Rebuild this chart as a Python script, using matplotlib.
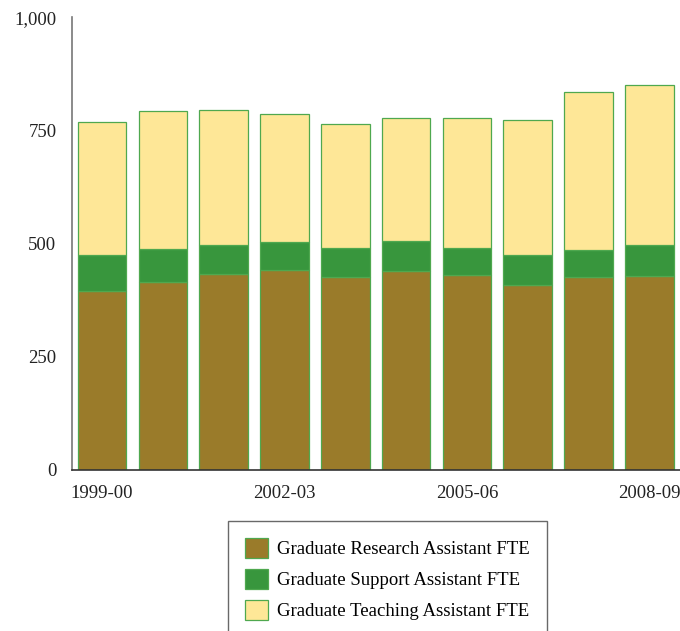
"""
Graduate assistant FTE, stacked bars
"""
import matplotlib
matplotlib.use("Agg")
import matplotlib.pyplot as plt
import numpy as np

years = ['1999-00', '2000-01', '2001-02', '2002-03', '2003-04',
         '2004-05', '2005-06', '2006-07', '2007-08', '2008-09']
research = [395, 416, 434, 442, 427, 439, 431, 409, 426, 429]
support = [80, 72, 63, 61, 64, 66, 60, 66, 61, 69]
teaching = [293, 305, 298, 284, 274, 273, 286, 299, 349, 353]

series = ['Graduate Research Assistant FTE',
          'Graduate Support Assistant FTE',
          'Graduate Teaching Assistant FTE']
colors = ['#9A7B2A', '#38963D', '#FEE797']
edge = '#4FA84F'

plt.rcParams['font.family'] = ['Liberation Serif', 'DejaVu Serif']

fig = plt.figure(figsize=(6.8, 6.31), dpi=100)
ax = fig.add_axes([0.1054, 0.2552, 0.894, 0.7174])

x = np.arange(len(years))
bottom = np.zeros(len(years))
handles = []
for vals, col, name in zip([research, support, teaching], colors, series):
    h = ax.bar(x, vals, width=0.8, bottom=bottom, color=col,
               edgecolor=edge, linewidth=0.9, label=name)
    handles.append(h)
    bottom += np.array(vals)

ax.set_xlim(-0.5, len(years) - 0.5)
ax.set_ylim(0, 1000)
ax.set_yticks([0, 250, 500, 750, 1000])
ax.set_yticklabels(['0', '250', '500', '750', '1,000'])
ax.set_xticks([0, 3, 6, 9])
ax.set_xticklabels([years[i] for i in [0, 3, 6, 9]])
ax.tick_params(axis='both', length=0, labelsize=13.5, colors='#222222')
ax.tick_params(axis='x', pad=11)
ax.tick_params(axis='y', pad=11)

for s in ['top', 'right']:
    ax.spines[s].set_visible(False)
ax.spines['left'].set_color('#777777')
ax.spines['bottom'].set_color('#333333')
ax.spines['left'].set_linewidth(1.2)
ax.spines['bottom'].set_linewidth(1.2)

leg = fig.legend(handles=handles, labels=series, loc='upper left',
                 bbox_to_anchor=(228 / 680, 1 - 521 / 631),
                 bbox_transform=fig.transFigure,
                 fontsize=13.5, frameon=True, fancybox=False,
                 handlelength=1.22, handleheight=1.3, handletextpad=0.5,
                 labelspacing=0.55, borderpad=0.9, borderaxespad=0)
leg.get_frame().set_edgecolor('#444444')
leg.get_frame().set_linewidth(1.0)

plt.savefig('out.png', dpi=100)
plt.close()
